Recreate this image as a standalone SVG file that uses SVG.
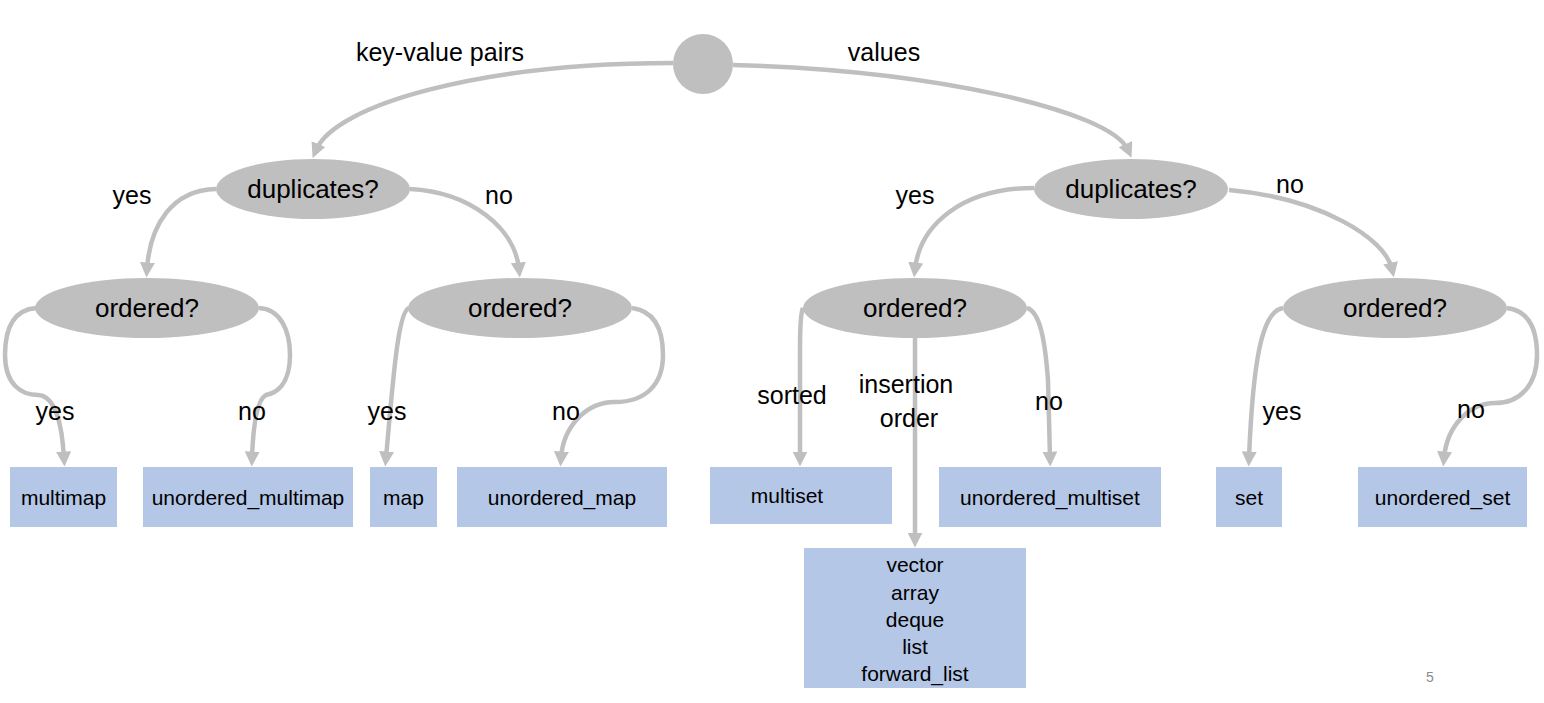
<svg xmlns="http://www.w3.org/2000/svg" width="1544" height="703" viewBox="0 0 1544 703">
<style>
.q{fill:#bfbfbf}
.b{fill:#b4c7e7}
.t{font-family:"Liberation Sans",Arial,sans-serif;fill:#000;text-anchor:middle;dominant-baseline:central}
.qt{font-size:26px}
.lb{font-size:25px}
.bt{font-size:21px}
.c{fill:none;stroke:#bfbfbf;stroke-width:4.5;marker-end:url(#ah)}
</style>
<defs>
<marker id="ah" viewBox="0 0 14 14" refX="6" refY="7" markerWidth="15" markerHeight="15" markerUnits="userSpaceOnUse" orient="auto">
<path d="M0,0 L14,7 L0,14 z" fill="#bfbfbf"/>
</marker>
</defs>
<rect width="1544" height="703" fill="#fff"/>
<g id="connectors">
<path class="c" d="M673 63 C480 63 335 105 316 150"/>
<path class="c" d="M733 65 C930 70 1110 110 1128 150"/>
<path class="c" d="M216 189 C172 190 150 225 147 269"/>
<path class="c" d="M410 189 C470 192 515 228 519 269"/>
<path class="c" d="M1034 188 C962 188 920 225 915 269"/>
<path class="c" d="M1229 190 C1320 198 1385 238 1392 269"/>
<path class="c" d="M36 308 C12 310 5 330 5 355 C5 385 22 395 38 395 C56 396 62 425 64 458"/>
<path class="c" d="M259 308 C280 309 290 330 290 355 C290 385 276 393 266 395 C256 400 253 430 252 458"/>
<path class="c" d="M409 308 C398 311 393 380 386 458"/>
<path class="c" d="M632 308 C655 311 663 330 663 355 C663 385 645 402 615 402 C585 402 563 428 561 458"/>
<path class="c" d="M803 308 C801 312 800 330 800 350 L800 458"/>
<path class="c" d="M915 337 L915 539"/>
<path class="c" d="M1027 308 C1040 312 1045 340 1048 380 L1050 458"/>
<path class="c" d="M1283 308 C1262 311 1253 360 1249 458"/>
<path class="c" d="M1507 308 C1530 311 1537 330 1537 355 C1537 385 1520 403 1495 403 C1470 403 1447 425 1444 458"/>
</g>
<g id="root"><circle class="q" cx="703" cy="64" r="30"/></g>
<g id="dupL"><ellipse class="q" cx="313" cy="189" rx="97" ry="30"/><text class="t qt" x="313" y="189">duplicates?</text></g>
<g id="dupR"><ellipse class="q" cx="1131" cy="189" rx="97" ry="30"/><text class="t qt" x="1131" y="189">duplicates?</text></g>
<g id="ordL1"><ellipse class="q" cx="147" cy="308" rx="112" ry="30"/><text class="t qt" x="147" y="308">ordered?</text></g>
<g id="ordL2"><ellipse class="q" cx="520" cy="308" rx="112" ry="30"/><text class="t qt" x="520" y="308">ordered?</text></g>
<g id="ordM"><ellipse class="q" cx="915" cy="308" rx="112" ry="30"/><text class="t qt" x="915" y="308">ordered?</text></g>
<g id="ordR"><ellipse class="q" cx="1395" cy="308" rx="112" ry="30"/><text class="t qt" x="1395" y="308">ordered?</text></g>
<g id="multimap"><rect class="b" x="10" y="467" width="107" height="60"/><text class="t bt" x="63.5" y="497">multimap</text></g>
<g id="unordered_multimap"><rect class="b" x="143" y="467" width="210" height="60"/><text class="t bt" x="248" y="497">unordered_multimap</text></g>
<g id="map"><rect class="b" x="370" y="467" width="67" height="60"/><text class="t bt" x="403.5" y="497">map</text></g>
<g id="unordered_map"><rect class="b" x="457" y="467" width="210" height="60"/><text class="t bt" x="562" y="497">unordered_map</text></g>
<g id="multiset"><rect class="b" x="710" y="467" width="182" height="57"/><text class="t bt" x="787" y="495">multiset</text></g>
<g id="unordered_multiset"><rect class="b" x="939" y="467" width="222" height="60"/><text class="t bt" x="1050" y="497">unordered_multiset</text></g>
<g id="sequence"><rect class="b" x="804" y="548" width="222" height="140"/>
<text class="t bt" x="915" y="564">vector</text>
<text class="t bt" x="915" y="592">array</text>
<text class="t bt" x="915" y="619">deque</text>
<text class="t bt" x="915" y="646">list</text>
<text class="t bt" x="915" y="673">forward_list</text></g>
<g id="set"><rect class="b" x="1216" y="467" width="66" height="60"/><text class="t bt" x="1249" y="497">set</text></g>
<g id="unordered_set"><rect class="b" x="1358" y="467" width="169" height="60"/><text class="t bt" x="1442.5" y="497">unordered_set</text></g>
<g id="labels">
<text class="t lb" x="440" y="52">key-value pairs</text>
<text class="t lb" x="884" y="52">values</text>
<text class="t lb" x="132" y="195">yes</text>
<text class="t lb" x="499" y="195">no</text>
<text class="t lb" x="915" y="195">yes</text>
<text class="t lb" x="1290" y="184">no</text>
<text class="t lb" x="55" y="411">yes</text>
<text class="t lb" x="252" y="411">no</text>
<text class="t lb" x="387" y="411">yes</text>
<text class="t lb" x="566" y="411">no</text>
<text class="t lb" x="792" y="395">sorted</text>
<text class="t lb" x="906" y="384">insertion</text>
<text class="t lb" x="909" y="418">order</text>
<text class="t lb" x="1049" y="401">no</text>
<text class="t lb" x="1282" y="411">yes</text>
<text class="t lb" x="1471" y="409">no</text>
</g>
<text x="1430" y="677" style="font-family:'Liberation Sans',Arial,sans-serif;font-size:14px;fill:#8c8c8c;text-anchor:middle;dominant-baseline:central">5</text>
</svg>
